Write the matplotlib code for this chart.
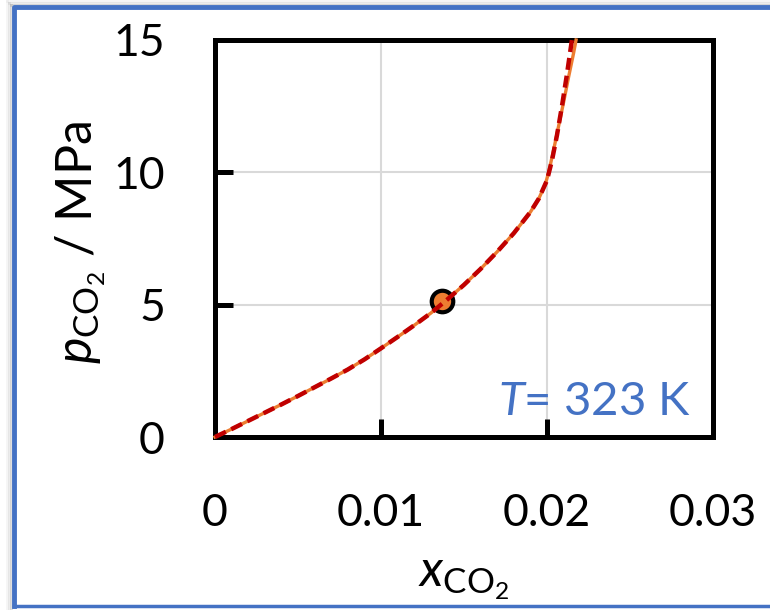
import matplotlib
matplotlib.use('Agg')
import matplotlib.pyplot as plt
from matplotlib.lines import Line2D

# model curve (orange solid)
x_model = [0, 0.001, 0.002, 0.003, 0.004, 0.005, 0.006, 0.007, 0.008, 0.009, 0.010,
           0.011, 0.012, 0.013, 0.014, 0.015, 0.016, 0.017, 0.018, 0.019, 0.0195,
           0.0199, 0.0201, 0.0204, 0.0207, 0.0210, 0.0213, 0.0216, 0.02175]
p_model = [0, 0.30, 0.61, 0.92, 1.23, 1.55, 1.88, 2.21, 2.55, 2.93, 3.35,
           3.78, 4.22, 4.68, 5.2, 5.75, 6.35, 7.0, 7.7, 8.5, 9.0,
           9.55, 10.0, 10.85, 11.75, 12.65, 13.6, 14.5, 15.0]

# fitted curve (red dashed)
x_fit = [0, 0.001, 0.002, 0.003, 0.004, 0.005, 0.006, 0.007, 0.008, 0.009, 0.010,
         0.011, 0.012, 0.013, 0.014, 0.015, 0.016, 0.017, 0.018, 0.019, 0.0195,
         0.0200, 0.0203, 0.0206, 0.0209, 0.0212, 0.0215]
p_fit = [0, 0.30, 0.61, 0.92, 1.23, 1.55, 1.88, 2.21, 2.55, 2.93, 3.35,
         3.78, 4.22, 4.68, 5.2, 5.75, 6.35, 7.0, 7.7, 8.5, 9.0,
         9.7, 10.45, 11.4, 12.5, 13.7, 15.0]

# experimental point
x_exp = [0.0137]
p_exp = [5.15]

xticks = [0, 0.01, 0.02, 0.03]
xticklabels = ['0', '0.01', '0.02', '0.03']
yticks = [0, 5, 10, 15]

plt.rcParams['font.family'] = 'Lato'
plt.rcParams['mathtext.fontset'] = 'custom'
plt.rcParams['mathtext.rm'] = 'Lato'
plt.rcParams['mathtext.it'] = 'Lato:italic'

W, H = 770, 610
fig = plt.figure(figsize=(W / 100, H / 100), dpi=100)
ax = fig.add_axes([215 / W, 1 - 437 / H, (713 - 215) / W, (437 - 40) / H])

ax.grid(True, color='#d9d9d9', lw=1.5, zorder=0)
ax.set_axisbelow(True)

ax.plot(x_model, p_model, color='#ED7D31', lw=2.4, zorder=3, clip_on=False)
ax.plot(x_fit, p_fit, color='#C00000', lw=3.2, dashes=(2.7, 1.35), zorder=4, clip_on=False)
ax.plot(x_exp, p_exp, 'o', ms=15.5, mfc='#ED7D31', mec='black', mew=3, zorder=2)

ax.set_xlim(0, 0.03)
ax.set_ylim(0, 15)
ax.set_xticks(xticks)
ax.set_xticklabels(xticklabels)
ax.set_yticks(yticks)
for s in ax.spines.values():
    s.set_linewidth(3.6)
ax.tick_params(direction='in', length=13, width=3.6, labelsize=32, color='black')
ax.tick_params(axis='x', pad=40)
ax.tick_params(axis='y', pad=36)

ax.set_xlabel(r'$x_{\mathrm{CO_2}}$', fontsize=36)
ax.xaxis.set_label_coords(0.5, -0.30)
ax.set_ylabel(r'$p_{\mathrm{CO_2}}$ / MPa', fontsize=36)
ax.yaxis.set_label_coords(-0.215, 0.49)

ax.text(0.955, 0.055, r'$\mathit{T}$= 323 K', transform=ax.transAxes, ha='right',
        va='baseline', fontsize=34, color='#4472C4')

# window border with a little shadow
for off, a in [(6, 0.08), (4, 0.15), (2, 0.25)]:
    fig.add_artist(Line2D([(13 - off) / W, (13 - off) / W], [0, 1 - (7 - off) / H],
                          transform=fig.transFigure, color='gray', alpha=a, lw=2))
    fig.add_artist(Line2D([(13 - off) / W, 1], [1 - (7 - off) / H, 1 - (7 - off) / H],
                          transform=fig.transFigure, color='gray', alpha=a, lw=2))
fig.add_artist(Line2D([14 / W, 14 / W, 1], [1 - 606 / H, 1 - 7 / H, 1 - 7 / H],
                      transform=fig.transFigure, color='#4472C4', lw=3.5))
fig.add_artist(Line2D([14 / W, 1], [1 - 606 / H, 1 - 606 / H],
                      transform=fig.transFigure, color='#4472C4', lw=2.5))

fig.savefig('out.png', dpi=100)
